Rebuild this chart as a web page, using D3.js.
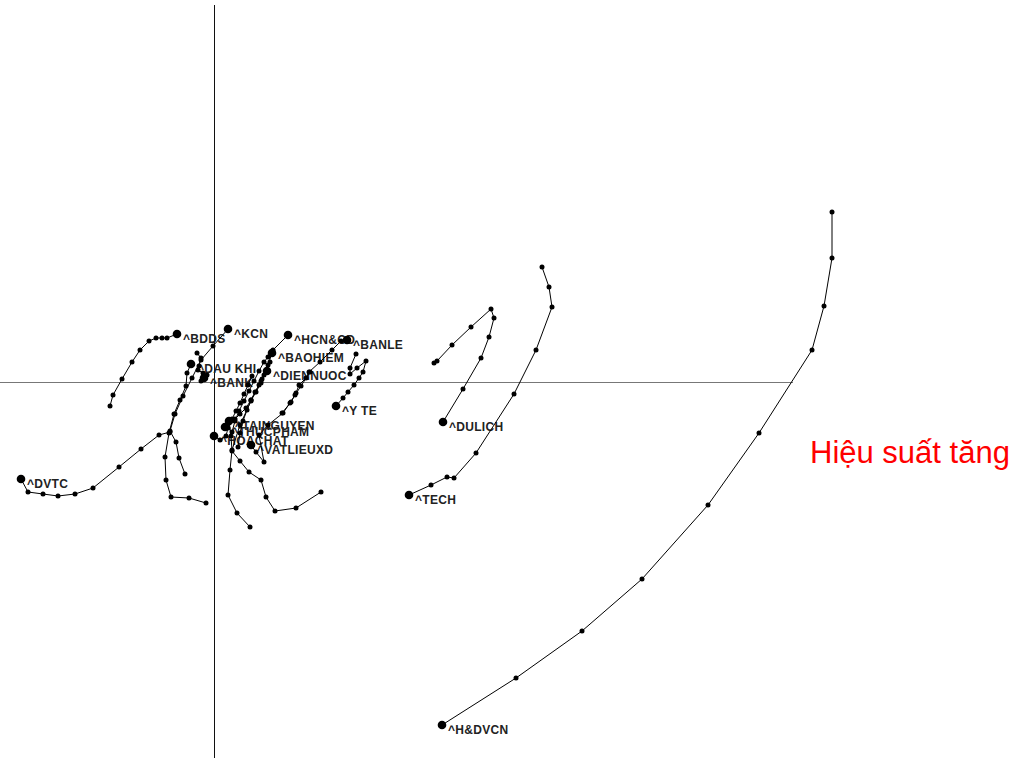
<!DOCTYPE html>
<html>
<head>
<meta charset="utf-8">
<script src="https://cdn.jsdelivr.net/npm/d3@7"></script>
<style>
html,body{margin:0;padding:0;background:#fff;}
svg{display:block;}
</style>
</head>
<body>
<svg id="chart" width="1020" height="758"></svg>
<script>
// Series names (labels drawn at the head of each tail)
const names = ["^H&DVCN","^TECH","^DULICH","^Y TE","^BANLE","^HCN&CD","^TAINGUYEN","^THUCPHAM",
  "^VATLIEUXD","^HOACHAT","^BAOHIEM","^DIENNUOC","^KCN","^DAU KHI","^BANK","^BDDS","^DVTC"];

// Relative strength (x) per series, oldest -> latest
const rsRatio = [
  [161.8,161.8,161.0,159.8,154.5,149.4,142.8,136.8,130.2,122.8],
  [132.8,133.5,133.8,132.2,130.0,126.2,124.0,123.3,121.7,119.5],
  [122.0,122.3,123.8,125.7,127.7,128.0,127.5,126.7,124.9,122.9],
  [114.2,113.6,113.6,114.3,115.2,114.9,114.5,114.0,113.4,112.9,112.2],
  [106.8,107.7,108.2,108.5,109.2,109.5,110.6,111.8,112.7,113.3],
  [103.6,102.3,101.4,101.6,101.8,102.6,103.7,104.7,105.4,105.9,107.4],
  [110.7,108.2,106.1,105.2,104.7,103.5,102.6,101.8,101.7,101.5],
  [105.6,105.2,104.7,104.2,103.7,103.2,102.6,102.1,101.5,101.1],
  [109.6,108.7,108.1,107.6,106.9,105.4,104.5,105.0,104.2,103.7],
  [103.8,103.4,103.0,102.6,102.2,101.8,101.4,101.2,100.6,100.0],
  [101.8,102.1,102.5,103.0,103.5,104.0,104.5,105.0,105.4,105.8],
  [102.4,102.6,102.9,103.3,103.7,104.1,104.5,104.8,105.0,105.3],
  [97.1,96.5,96.2,95.6,96.1,96.9,97.8,98.7,99.9,101.4],
  [99.2,97.5,95.7,95.2,95.1,95.5,96.0,96.6,97.2,97.3,97.7],
  [98.3,98.7,98.5,98.4,98.9,99.3,98.7,99.0],
  [89.6,89.9,90.8,91.8,92.6,93.5,94.2,94.8,95.3,96.3],
  [95.6,94.5,92.7,90.5,87.9,86.1,84.4,82.9,81.4,80.7]
];

// Momentum (y) per series, oldest -> latest
const rsMomentum = [
  [117.0,112.4,107.6,103.2,94.9,87.7,80.3,75.1,70.4,65.7],
  [111.5,109.5,107.5,103.2,98.8,92.9,90.4,90.5,89.7,88.7],
  [101.9,102.1,103.7,105.5,107.3,106.4,104.5,102.4,99.3,96.0],
  [102.8,101.4,100.8,101.4,102.1,101.0,100.4,99.7,99.0,98.4,97.6],
  [96.9,98.0,98.9,99.7,100.4,101.0,102.0,103.2,104.1,104.2],
  [85.5,86.9,88.7,91.2,93.2,95.7,98.1,100.1,101.7,103.2,104.7],
  [89.0,87.4,87.1,88.5,90.2,91.0,92.1,93.1,94.6,96.1],
  [102.0,101.0,99.9,99.0,98.2,97.4,96.8,96.3,95.9,95.5],
  [101.0,99.6,98.7,97.9,96.9,95.7,94.7,92.0,93.0,93.7],
  [100.6,99.7,98.8,97.9,97.1,96.3,95.4,94.6,94.2,94.6],
  [95.0,96.1,97.1,98.1,99.1,100.1,101.1,102.0,102.5,102.9],
  [93.5,94.9,96.1,97.2,98.2,99.0,99.7,100.3,100.7,101.1],
  [90.8,92.4,94.0,95.1,96.8,98.6,100.4,102.2,103.6,105.3],
  [87.9,88.4,88.5,90.2,92.5,94.9,96.8,98.2,99.6,100.9,101.8],
  [102.9,102.4,101.6,101.2,100.9,100.7,100.1,100.4],
  [97.6,98.7,100.3,102.0,103.2,104.1,104.4,104.4,104.4,104.8],
  [95.0,94.7,93.3,91.5,89.4,88.8,88.6,88.8,89.0,90.3]
];

const centerValue = 100;
const annotation = "Hiệu suất tăng";

const svg = d3.select("#chart");
const x = d3.scaleLinear().domain([78.6, 180.6]).range([0, 1020]);
const y = d3.scaleLinear().domain([62.4, 138.2]).range([758, 0]);

// Center cross lines
svg.append("line")
  .attr("x1", x(78.6)).attr("x2", x(157.9))
  .attr("y1", y(centerValue)).attr("y2", y(centerValue))
  .attr("stroke", "#777").attr("stroke-width", 1).attr("shape-rendering","crispEdges");
svg.append("line")
  .attr("x1", x(centerValue)).attr("x2", x(centerValue))
  .attr("y1", y(137.7)).attr("y2", y(62.4))
  .attr("stroke", "#111").attr("stroke-width", 1).attr("shape-rendering","crispEdges");

const series = names.map((n, i) => ({
  name: n,
  pts: rsRatio[i].map((v, j) => [v, rsMomentum[i][j]])
}));

// Labels first (marks overlap them as in the reference)
svg.append("g").selectAll("text").data(series).join("text")
  .attr("x", d => x(d.pts[d.pts.length-1][0]) + 6)
  .attr("y", d => y(d.pts[d.pts.length-1][1]) + 9)
  .attr("font-family", "Liberation Sans, Arial, sans-serif")
  .attr("font-weight", "bold")
  .attr("font-size", 12)
  .attr("letter-spacing", 0.3)
  .attr("fill", "#222")
  .text(d => d.name);

const line = d3.line().x(d => x(d[0])).y(d => y(d[1]));
const g = svg.append("g");
series.forEach(s => {
  g.append("path").attr("d", line(s.pts))
    .attr("fill", "none").attr("stroke", "#000").attr("stroke-width", 1);
  g.selectAll(null).data(s.pts).join("circle")
    .attr("cx", d => x(d[0])).attr("cy", d => y(d[1]))
    .attr("r", (d, j) => j === s.pts.length - 1 ? 4.3 : 2.5)
    .attr("fill", "#000");
});

svg.append("text")
  .attr("x", 810).attr("y", 463)
  .attr("font-family", "Liberation Sans, Arial, sans-serif")
  .attr("font-size", 31)
  .attr("fill", "#ff0000")
  .text(annotation);
</script>
</body>
</html>
